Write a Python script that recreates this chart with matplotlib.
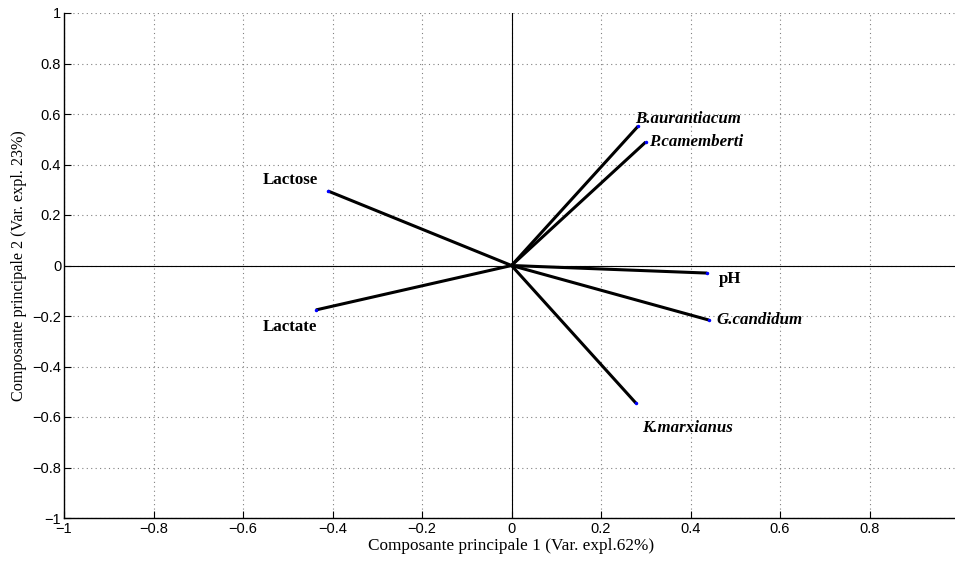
import matplotlib
matplotlib.use("Agg")
import matplotlib.pyplot as plt
from matplotlib.ticker import FuncFormatter

variables = ["B.aurantiacum", "P.camemberti", "Lactose", "Lactate", "pH", "G.candidum", "K.marxianus"]
pc1 = [0.283, 0.300, -0.410, -0.437, 0.437, 0.441, 0.278]
pc2 = [0.552, 0.489, 0.295, -0.176, -0.030, -0.216, -0.545]
label_x = [0.276, 0.307, -0.557, -0.557, 0.464, 0.457, 0.291]
label_y = [0.580, 0.489, 0.339, -0.244, -0.054, -0.216, -0.642]
italic = [True, True, False, False, False, True, True]

xticks = [-1, -0.8, -0.6, -0.4, -0.2, 0, 0.2, 0.4, 0.6, 0.8]
yticks = [-1, -0.8, -0.6, -0.4, -0.2, 0, 0.2, 0.4, 0.6, 0.8, 1]

fig = plt.figure(figsize=(9.55, 5.61), dpi=100)
ax = fig.add_axes([64/955, 43/561, 895/955, 505/561])
ax.set_xlim(-1, 1)
ax.set_ylim(-1, 1)

ax.axhline(0, color="black", lw=0.8, zorder=2)
ax.axvline(0, color="black", lw=0.8, zorder=2)

for x, y in zip(pc1, pc2):
    ax.plot([0, x], [0, y], color="black", lw=2.2, solid_capstyle="butt", zorder=3)
    ax.plot([x], [y], marker=".", color="blue", markersize=3, zorder=4)

for name, lx, ly, it in zip(variables, label_x, label_y, italic):
    ax.text(lx, ly, name, ha="left", va="center", fontsize=12.2, fontweight="bold",
            fontstyle="italic" if it else "normal", family="Liberation Serif", zorder=5)

ax.set_xticks(xticks)
ax.set_yticks(yticks)
fmt = FuncFormatter(lambda v, p: ("%g" % round(v, 2)).replace("-", "\u2212"))
ax.xaxis.set_major_formatter(fmt)
ax.yaxis.set_major_formatter(fmt)
ax.tick_params(direction="in", length=5, width=0.8, labelsize=10.5, top=False, right=False)
for lab in ax.get_xticklabels() + ax.get_yticklabels():
    lab.set_family("Liberation Sans")
ax.tick_params(axis="x", pad=3)
ax.tick_params(axis="y", pad=2)

ax.grid(True, linestyle=(0, (1, 3)), color="#808080", lw=0.8)
ax.set_axisbelow(True)
ax.spines["top"].set_visible(False)
ax.spines["right"].set_visible(False)
ax.spines["left"].set_linewidth(1.0)
ax.spines["bottom"].set_linewidth(1.0)

ax.set_xlabel("Composante principale 1 (Var. expl.62%)", family="Liberation Serif", fontsize=12.4, labelpad=1)
ax.set_ylabel("Composante principale 2 (Var. expl. 23%)", family="Liberation Serif", fontsize=11.6, labelpad=4)

fig.savefig("out.png", dpi=100)
